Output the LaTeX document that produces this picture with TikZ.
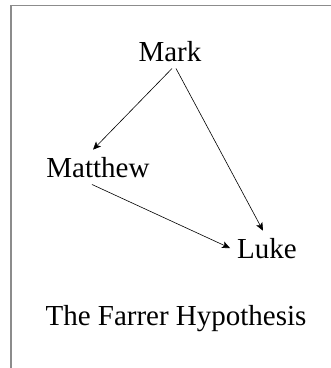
\documentclass[tikz,border=0pt]{standalone}
\usepackage{fontspec}
\setmainfont{Liberation Serif}
\usepackage{tikz}
\usetikzlibrary{arrows.meta, positioning, calc}
\definecolor{framegray}{RGB}{140, 140, 140}

\begin{document}
\begin{tikzpicture}[x=1pt, y=-1pt,
    book/.style={inner sep=7pt, font=\fontsize{29}{32}\selectfont},
    src/.style={-{Stealth[length=8pt, width=7pt, inset=2pt]}, line width=0.6pt}]
    \useasboundingbox (0,0) rectangle (331,368);
    \draw[framegray, line width=1.6pt] (11,368) |- (331,5.5);

    \node[book, anchor=base] (mark) at (170,61) {Mark};
    \node[book, anchor=base] (matthew) at (98,177) {Matthew};
    \node[book, anchor=base] (luke) at (267,258) {Luke};
    \node[book, anchor=base] (title) at (176,325) {The Farrer Hypothesis};

    \draw[src] ($(mark.south)+(2,0)$) -- ($(matthew.north)+(-5,0)$);
    \draw[src] ($(mark.south)+(6,0)$) -- ($(luke.north)+(-4,0)$);
    \draw[src] ($(matthew.south)+(-6,0)$) -- (luke.west);
\end{tikzpicture}
\end{document}
